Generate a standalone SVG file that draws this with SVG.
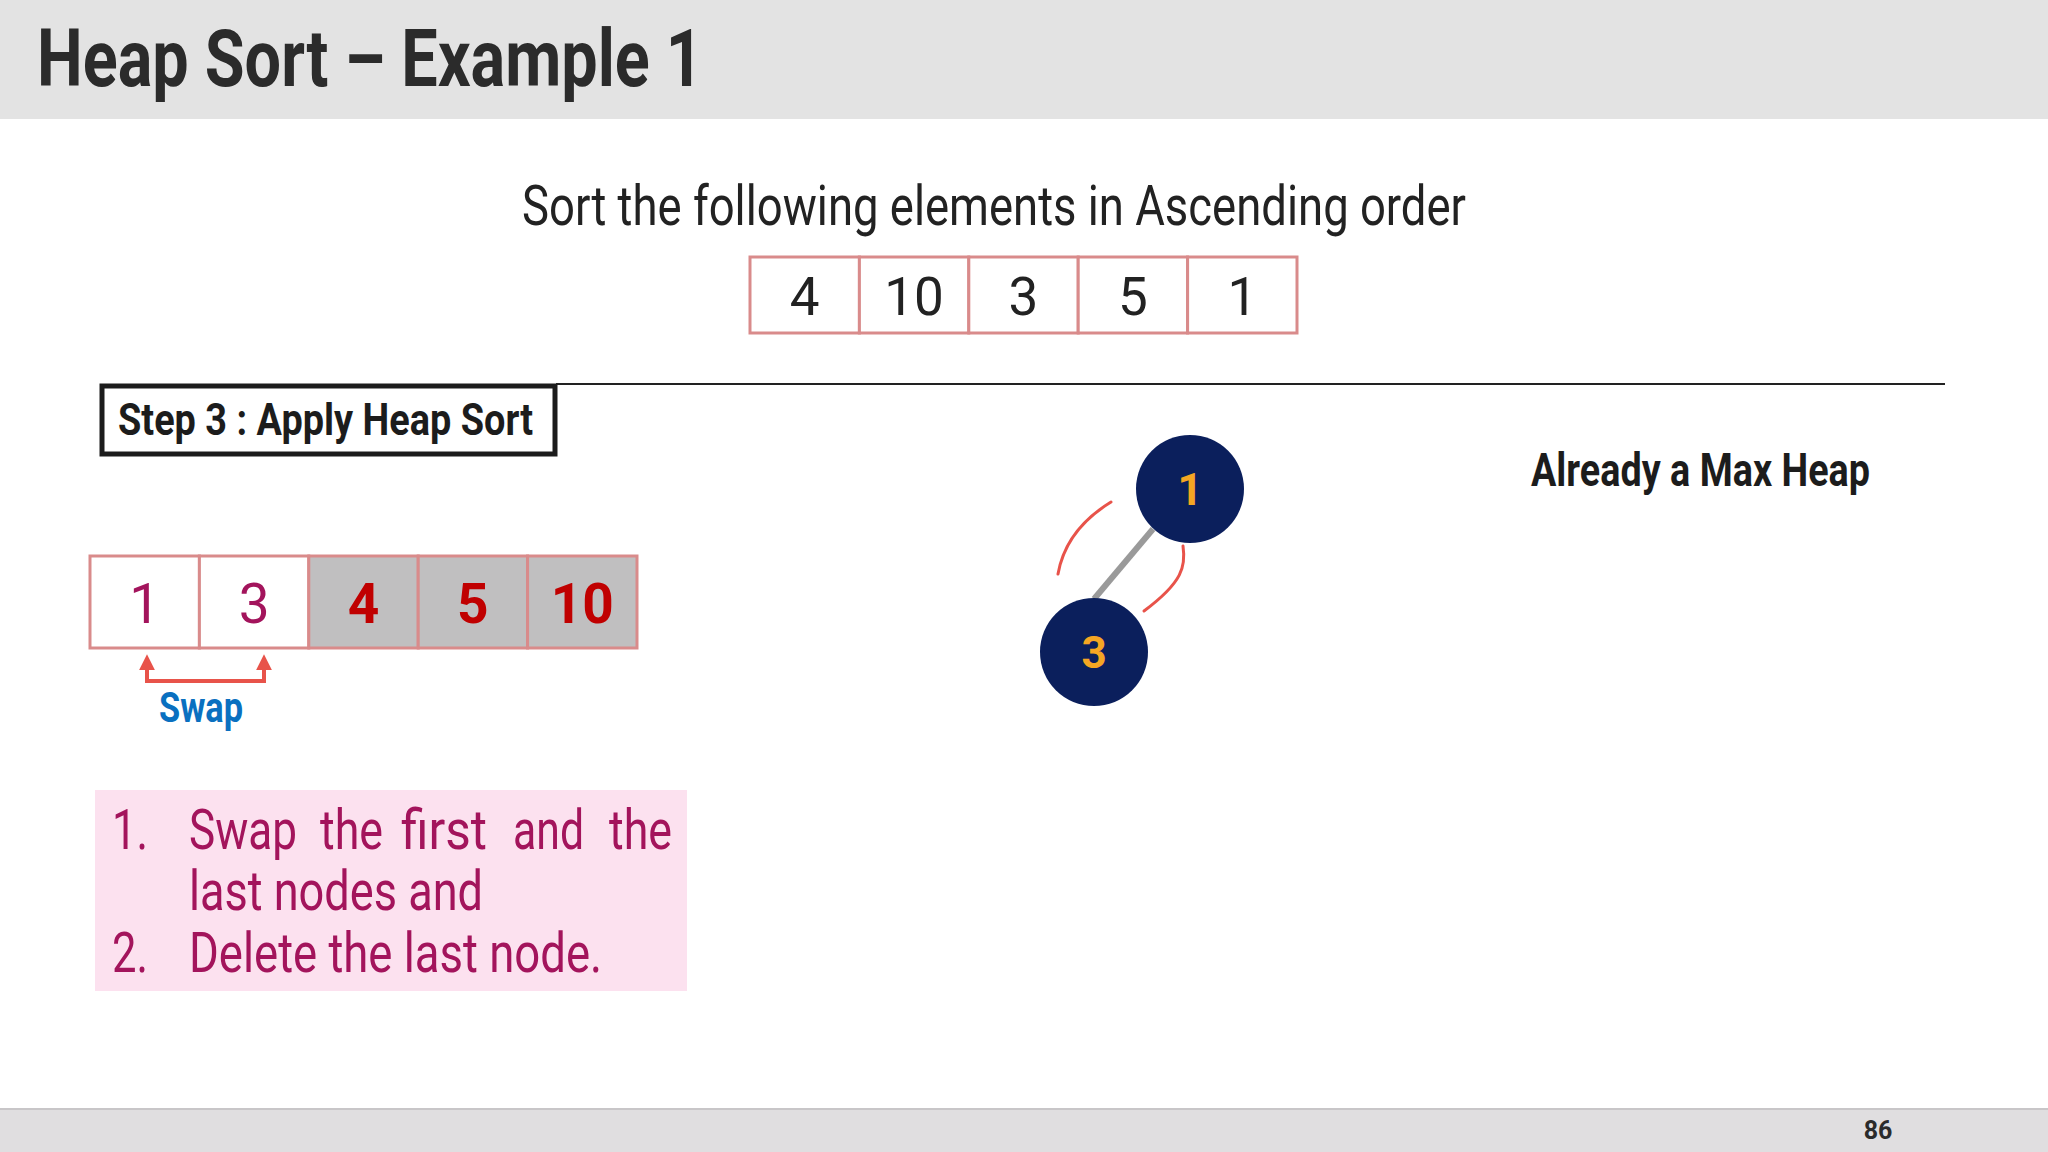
<svg xmlns="http://www.w3.org/2000/svg" width="2048" height="1152" viewBox="0 0 2048 1152">
<defs>
<style>
.t{font-family:Roboto,"Liberation Sans",sans-serif}
.b{font-weight:700}
.cell{stroke:#d98b8b;stroke-width:3}
.num{font-size:53px;fill:#222;text-anchor:middle}
.pk{font-size:56px;fill:#a3145c}
.nd{fill:#0b1f5c}
.nt{font-size:44px;fill:#f5a623;text-anchor:middle;font-weight:700}
.arc{fill:none;stroke:#e8534a;stroke-width:3;stroke-linecap:round}
</style>
<marker id="ah" viewBox="0 0 10 10" refX="7" refY="5" markerWidth="16" markerHeight="16" orient="auto-start-reverse" markerUnits="userSpaceOnUse">
<path d="M0,0 L10,5 L0,10 Z" fill="#e8534a"/>
</marker>
</defs>
<rect width="2048" height="1152" fill="#ffffff"/>
<g id="header">
<rect x="0" y="0" width="2048" height="119" fill="#e3e3e3"/>
<text class="t b" x="37" y="86" font-size="80" fill="#2b2b2b" textLength="666" lengthAdjust="spacingAndGlyphs">Heap Sort – Example 1</text>
</g>
<g id="subtitle">
<text class="t" x="522" y="225" font-size="56" fill="#222" textLength="944" lengthAdjust="spacingAndGlyphs">Sort the following elements in Ascending order</text>
</g>
<g id="input-array">
<rect class="cell" x="750" y="257" width="109.4" height="76" fill="#fff"/>
<rect class="cell" x="859.4" y="257" width="109.4" height="76" fill="#fff"/>
<rect class="cell" x="968.8" y="257" width="109.4" height="76" fill="#fff"/>
<rect class="cell" x="1078.2" y="257" width="109.4" height="76" fill="#fff"/>
<rect class="cell" x="1187.6" y="257" width="109.4" height="76" fill="#fff"/>
<text class="t num" x="804.7" y="315">4</text>
<text class="t num" x="914.1" y="315">10</text>
<text class="t num" x="1023.5" y="315">3</text>
<text class="t num" x="1132.9" y="315">5</text>
<text class="t num" x="1242.3" y="315">1</text>
</g>
<g id="step-title">
<line x1="556" y1="384" x2="1945" y2="384" stroke="#222" stroke-width="2"/>
<rect x="102" y="386" width="453" height="68" fill="#fff" stroke="#1c1c1c" stroke-width="5"/>
<text class="t b" x="118" y="435" font-size="44" fill="#1c1c1c" textLength="415" lengthAdjust="spacingAndGlyphs">Step 3 : Apply Heap Sort</text>
</g>
<g id="heap-array">
<rect class="cell" x="90" y="556" width="109.4" height="92" fill="#fff"/>
<rect class="cell" x="199.4" y="556" width="109.4" height="92" fill="#fff"/>
<rect class="cell" x="308.8" y="556" width="109.4" height="92" fill="#c0bfc0"/>
<rect class="cell" x="418.2" y="556" width="109.4" height="92" fill="#c0bfc0"/>
<rect class="cell" x="527.6" y="556" width="109.4" height="92" fill="#c0bfc0"/>
<text class="t" x="144.7" y="623" font-size="55" fill="#a3145c" text-anchor="middle">1</text>
<text class="t" x="254.1" y="623" font-size="55" fill="#a3145c" text-anchor="middle">3</text>
<text class="t b" x="363.5" y="623" font-size="55" fill="#c00000" text-anchor="middle">4</text>
<text class="t b" x="472.9" y="623" font-size="55" fill="#c00000" text-anchor="middle">5</text>
<text class="t b" x="582.3" y="623" font-size="55" fill="#c00000" text-anchor="middle">10</text>
</g>
<g id="connectors">
<path d="M147,659 L147,681 L264,681 L264,659" fill="none" stroke="#e8534a" stroke-width="4" marker-start="url(#ah)" marker-end="url(#ah)"/>
<line x1="1153" y1="529" x2="1094" y2="599" stroke="#9a9a9a" stroke-width="6"/>
<path class="arc" d="M1111,502 C1085,518 1064,540 1058,574"/>
<path class="arc" d="M1183,546 C1186,566 1183,582 1144,611"/>
</g>
<g id="swap-label">
<text class="t b" x="159" y="722" font-size="42" fill="#0a70c0" textLength="84" lengthAdjust="spacingAndGlyphs">Swap</text>
</g>
<g id="node-1">
<circle class="nd" cx="1190" cy="489" r="54"/>
<text class="t nt" x="1190" y="505">1</text>
</g>
<g id="node-3">
<circle class="nd" cx="1094" cy="652" r="54"/>
<text class="t nt" x="1094" y="668">3</text>
</g>
<g id="max-heap-label">
<text class="t b" x="1531" y="486" font-size="46" fill="#1c1c1c" textLength="339" lengthAdjust="spacingAndGlyphs">Already a Max Heap</text>
</g>
<g id="steps-box">
<rect x="95" y="790" width="592" height="201" fill="#fce1ef"/>
<text class="t pk" x="112" y="849" textLength="36" lengthAdjust="spacingAndGlyphs">1.</text>
<text class="t pk" x="189" y="849" textLength="108" lengthAdjust="spacingAndGlyphs">Swap</text>
<text class="t pk" x="320" y="849" textLength="63" lengthAdjust="spacingAndGlyphs">the</text>
<text class="t pk" x="401" y="849" textLength="86" lengthAdjust="spacingAndGlyphs">first</text>
<text class="t pk" x="513" y="849" textLength="71" lengthAdjust="spacingAndGlyphs">and</text>
<text class="t pk" x="609" y="849" textLength="63" lengthAdjust="spacingAndGlyphs">the</text>
<text class="t pk" x="189" y="910" textLength="294" lengthAdjust="spacingAndGlyphs">last nodes and</text>
<text class="t pk" x="112" y="972" textLength="36" lengthAdjust="spacingAndGlyphs">2.</text>
<text class="t pk" x="189" y="972" textLength="413" lengthAdjust="spacingAndGlyphs">Delete the last node.</text>
</g>
<g id="footer">
<rect x="0" y="1109" width="2048" height="43" fill="#e0dee0"/>
<line x1="0" y1="1109" x2="2048" y2="1109" stroke="#c8c6c8" stroke-width="2"/>
<text class="t b" x="1878" y="1139" font-size="25" fill="#2b2b2b" text-anchor="middle">86</text>
</g>
</svg>
